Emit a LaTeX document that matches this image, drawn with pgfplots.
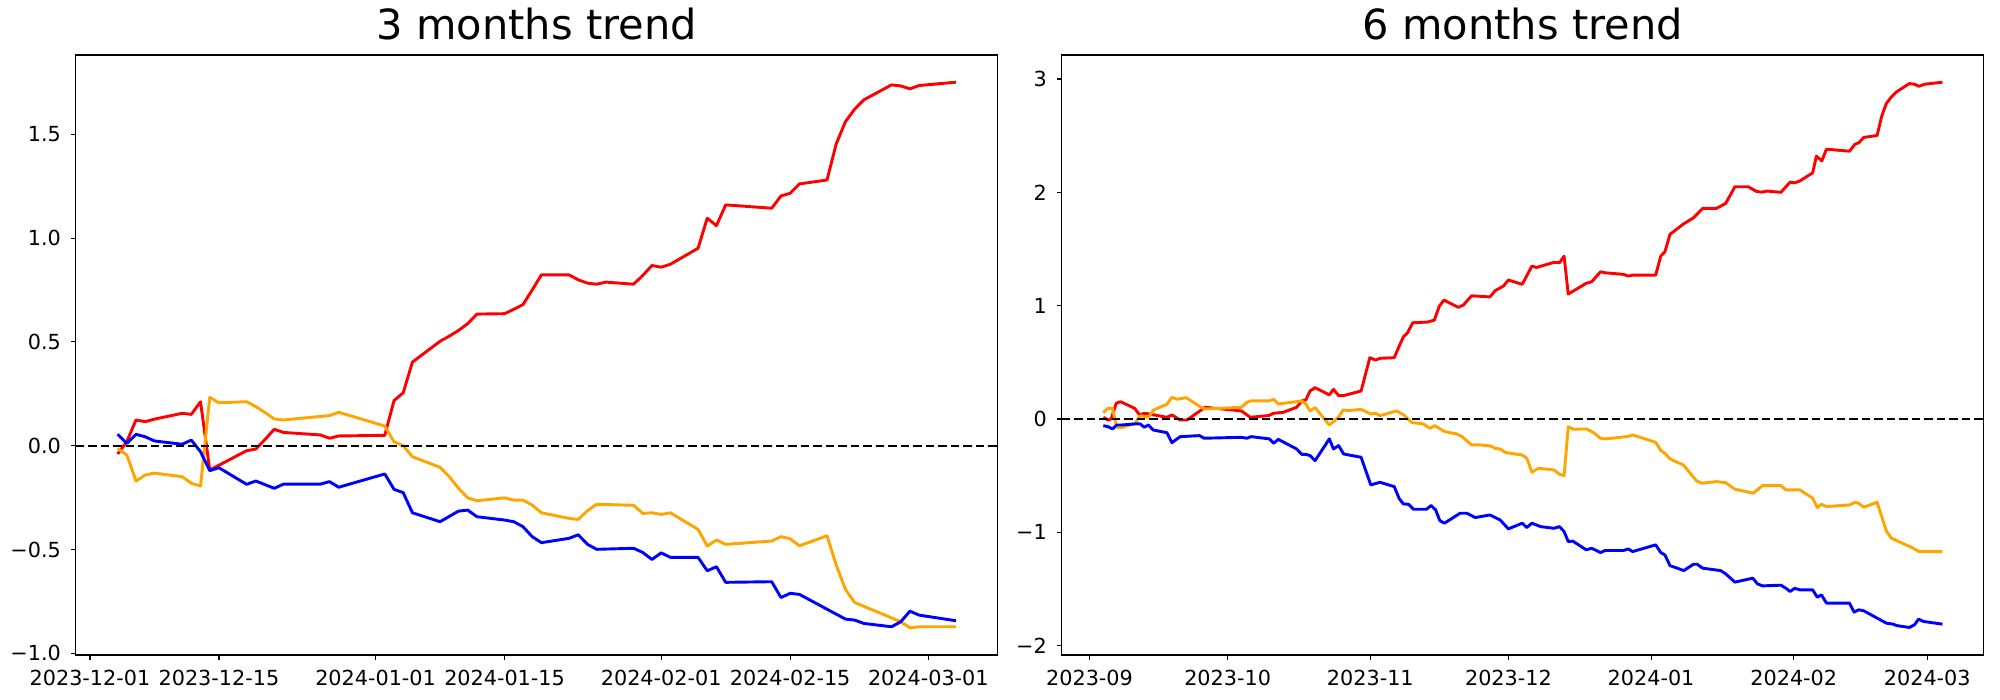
\documentclass[border=0pt]{standalone}
\usepackage{pgfplots}
\pgfplotsset{compat=1.18}
\usepackage{pgfplotstable}
\usepackage{fontspec}
\setmainfont{DejaVu Sans}

\definecolor{mplred}{HTML}{FF0000}
\definecolor{mplorange}{HTML}{FFA500}
\definecolor{mplblue}{HTML}{0000FF}

% ---- 3 months: x = days since 2023-12-01, y in 1e6 ----
\pgfplotstableread{
d v
3 -0.040
4 0.020
5 0.124
6 0.116
7 0.128
10 0.156
11 0.151
12 0.212
13 -0.117
14 -0.094
17 -0.024
18 -0.016
19 0.030
20 0.079
21 0.064
25 0.052
26 0.036
27 0.047
32 0.050
33 0.217
34 0.255
35 0.403
38 0.503
39 0.528
40 0.555
41 0.588
42 0.634
45 0.636
46 0.657
47 0.680
48 0.750
49 0.823
52 0.823
53 0.799
54 0.783
55 0.778
56 0.788
59 0.778
60 0.820
61 0.868
62 0.860
63 0.874
66 0.951
67 1.096
68 1.060
69 1.160
74 1.144
75 1.203
76 1.216
77 1.261
80 1.280
81 1.454
82 1.561
83 1.621
84 1.666
87 1.738
88 1.733
89 1.719
90 1.735
94 1.751
}\shortred

\pgfplotstableread{
d v
3 -0.013
4 -0.045
5 -0.170
6 -0.141
7 -0.132
10 -0.149
11 -0.181
12 -0.194
13 0.233
14 0.207
17 0.212
18 0.188
19 0.160
20 0.129
21 0.124
25 0.141
26 0.145
27 0.161
32 0.095
33 0.019
34 0.000
35 -0.053
38 -0.104
39 -0.149
40 -0.205
41 -0.251
42 -0.265
45 -0.251
46 -0.262
47 -0.262
48 -0.286
49 -0.323
52 -0.350
53 -0.355
54 -0.313
55 -0.282
59 -0.287
60 -0.326
61 -0.323
62 -0.331
63 -0.323
66 -0.403
67 -0.483
68 -0.454
69 -0.475
74 -0.459
75 -0.438
76 -0.448
77 -0.482
80 -0.434
81 -0.575
82 -0.692
83 -0.755
87 -0.829
88 -0.848
89 -0.877
90 -0.872
94 -0.872
}\shortorange

\pgfplotstableread{
d v
3 0.055
4 0.011
5 0.055
6 0.043
7 0.023
10 0.007
11 0.027
12 -0.029
13 -0.120
14 -0.106
17 -0.186
18 -0.170
20 -0.205
21 -0.185
25 -0.185
26 -0.173
27 -0.200
32 -0.136
33 -0.210
34 -0.226
35 -0.323
38 -0.366
40 -0.315
41 -0.310
42 -0.342
45 -0.358
46 -0.366
47 -0.390
48 -0.438
49 -0.467
52 -0.446
53 -0.429
54 -0.475
55 -0.499
59 -0.494
60 -0.514
61 -0.548
62 -0.516
63 -0.538
66 -0.538
67 -0.602
68 -0.583
69 -0.658
74 -0.655
75 -0.731
76 -0.711
77 -0.716
82 -0.835
83 -0.840
84 -0.856
87 -0.872
88 -0.848
89 -0.797
90 -0.816
94 -0.843
}\shortblue

% ---- 6 months: x = days since 2023-09-01, y in 1e6 ----
\pgfplotstableread{
d v
3 0.015
4 -0.009
4.7 0.000
5.8 0.138
6.7 0.153
9.8 0.094
10.9 0.035
11.9 0.050
12.8 0.045
16.8 0.015
17.9 0.035
19.7 -0.009
21.2 -0.009
25.1 0.103
33 0.071
34.9 0.015
38.9 0.030
40 0.050
42.1 0.059
45 0.103
46.1 0.159
47 0.168
47.9 0.247
49 0.276
52.1 0.212
53 0.262
54.1 0.206
55.2 0.206
59 0.247
60.9 0.541
62.1 0.520
63.1 0.535
66.2 0.541
67.3 0.645
68.2 0.726
69.1 0.761
70.2 0.849
73.4 0.855
74.9 0.872
76 0.996
77 1.049
80.1 0.985
81.2 1.005
83 1.087
87 1.077
88.1 1.132
89.9 1.172
91 1.226
94 1.188
96.1 1.349
97.1 1.337
100.9 1.382
102.1 1.379
103.1 1.437
104 1.102
107.9 1.197
109.1 1.211
111 1.299
112 1.290
116 1.276
117 1.261
118.1 1.270
123 1.270
124.1 1.437
125 1.475
126.1 1.629
129 1.720
131.2 1.775
133.2 1.858
136.2 1.858
138.2 1.902
140.2 2.049
143.1 2.049
144.9 2.008
146 2.002
147.2 2.011
150.2 2.000
152.2 2.090
153.2 2.084
154.3 2.100
157.1 2.172
157.9 2.319
159.1 2.278
160.1 2.381
165.1 2.363
166.3 2.425
167.1 2.437
168.2 2.484
171.1 2.502
172.1 2.672
173.1 2.784
174.2 2.842
175.3 2.886
178.1 2.960
179.2 2.954
180.2 2.936
181.4 2.954
185.3 2.972
}\longred

\pgfplotstableread{
d v
3 0.056
4 0.094
5 0.094
5.9 -0.073
7 -0.076
9.9 -0.038
11 0.029
12.8 0.015
13.9 0.079
16.8 0.129
17.9 0.191
19 0.174
21 0.188
24 0.109
25.1 0.088
33 0.103
34.2 0.147
35 0.159
39.1 0.159
40 0.174
41 0.132
46.1 0.159
47 0.132
47.9 0.071
49 0.100
52.1 -0.053
53 -0.024
54.1 0.015
55.1 0.079
56.3 0.074
59 0.085
61.1 0.044
62.2 0.050
63.1 0.029
66.7 0.071
68.2 0.038
70 -0.032
72.5 -0.044
74 -0.082
75 -0.059
77.2 -0.112
79.8 -0.132
80.9 -0.155
83 -0.229
84.9 -0.229
87.1 -0.238
88.1 -0.259
89.2 -0.265
90.3 -0.294
91.4 -0.303
94 -0.318
95 -0.347
96.1 -0.470
97.5 -0.435
100.9 -0.450
102.1 -0.488
103.1 -0.500
104 -0.068
105.1 -0.091
108 -0.088
109.5 -0.121
111 -0.170
112 -0.176
116.7 -0.156
118 -0.141
123 -0.206
124.1 -0.279
125 -0.303
126.1 -0.353
129 -0.406
131.9 -0.547
133 -0.567
136.2 -0.553
138.2 -0.562
140.2 -0.620
144.2 -0.655
146.2 -0.588
150.2 -0.588
151.3 -0.626
154.3 -0.626
157.1 -0.699
158.1 -0.782
159 -0.753
160.1 -0.773
165.1 -0.759
166.3 -0.735
167.1 -0.744
168.2 -0.779
171.1 -0.735
172.1 -0.861
173.1 -0.988
174.2 -1.052
178.9 -1.140
180.2 -1.170
181.3 -1.170
185.3 -1.170
}\longorange

\pgfplotstableread{
d v
3 -0.059
4 -0.068
5 -0.088
5.9 -0.053
7 -0.053
9.9 -0.044
11 -0.044
11.9 -0.073
12.8 -0.053
13.8 -0.097
16.8 -0.121
17.9 -0.209
19.7 -0.156
23.9 -0.147
24.9 -0.170
33 -0.162
34.2 -0.170
35.1 -0.156
39.1 -0.176
40 -0.215
41 -0.180
45 -0.265
46.1 -0.312
47 -0.312
47.9 -0.323
49 -0.368
52.1 -0.176
53 -0.265
54.1 -0.235
55.2 -0.309
59 -0.338
61.1 -0.582
63.1 -0.559
66.2 -0.597
67.3 -0.705
68.2 -0.750
69.3 -0.753
70.4 -0.797
73.2 -0.797
74.2 -0.764
75.2 -0.803
76.1 -0.897
77.1 -0.920
80.5 -0.832
82 -0.832
83.8 -0.870
87 -0.847
89.2 -0.891
91 -0.970
94 -0.920
95 -0.958
96.1 -0.920
98 -0.950
100.9 -0.965
102.1 -0.950
103.1 -0.994
104 -1.082
105 -1.078
107.9 -1.155
109.1 -1.141
111 -1.179
112 -1.161
116 -1.161
117 -1.147
118 -1.170
123 -1.111
124.1 -1.179
125 -1.200
126.1 -1.294
129.1 -1.338
131.2 -1.282
132 -1.282
133.2 -1.317
137.1 -1.338
138.2 -1.367
140.2 -1.440
144.1 -1.405
145.1 -1.455
146.2 -1.473
150.2 -1.467
151.3 -1.494
152.2 -1.523
153.2 -1.494
154.3 -1.508
157.1 -1.508
158.1 -1.573
159 -1.552
160.1 -1.625
165.1 -1.625
166.1 -1.705
167.1 -1.684
168.2 -1.693
173.1 -1.802
174.6 -1.811
175.3 -1.823
178.1 -1.840
179.2 -1.817
180.1 -1.767
181.2 -1.787
185.3 -1.811
}\longblue

\pgfplotsset{
  trend/.style={
    scale only axis,
    width=664bp, height=432bp,
    anchor=south west,
    axis line style={line width=0.8bp, black},
    tick style={line width=0.8bp, black},
    tick align=outside,
    major tick length=3.5bp,
    xtick pos=bottom, ytick pos=left,
    ticklabel style={font=\fontsize{15}{18}\selectfont, inner sep=0pt},
    xticklabel style={anchor=north, yshift=-7bp},
    yticklabel style={anchor=east, xshift=-7bp},
    title style={font=\fontsize{30}{36}\selectfont, at={(0.5,1)}, anchor=base, yshift=5.5bp, inner sep=0pt},
    clip=true,
  },
  serie/.style={line width=2.1bp, line join=round, #1},
  zeroline/.style={black, line width=1.5bp, dash pattern=on 6bp off 3bp},
}

\begin{document}
\begin{tikzpicture}
\path[use as bounding box] (0,0) rectangle (1440bp,504bp);

\begin{axis}[trend,
  at={(54.5bp,32.4bp)},
  title={3 months trend},
  xmin=-1.55, xmax=98.55,
  ymin=-1.008, ymax=1.882,
  xtick={0,14,31,45,62,76,91},
  xticklabels={2023-12-01,2023-12-15,2024-01-01,2024-01-15,2024-02-01,2024-02-15,2024-03-01},
  ytick={-1,-0.5,0,0.5,1,1.5},
  yticklabels={−1.0,−0.5,0.0,0.5,1.0,1.5},
]
\addplot[serie=mplred] table[x=d, y=v] {\shortred};
\addplot[serie=mplorange] table[x=d, y=v] {\shortorange};
\addplot[serie=mplblue] table[x=d, y=v] {\shortblue};
\addplot[zeroline] coordinates {(-1.55,0) (98.55,0)};
\node[anchor=south west, inner sep=0pt, xshift=1bp, yshift=3bp, font=\fontsize{10}{12}\selectfont] at (rel axis cs:0,1) {1e6};
\end{axis}

\begin{axis}[trend,
  at={(764.4bp,32.4bp)},
  title={6 months trend},
  xmin=-6.05, xmax=194.3,
  ymin=-2.083, ymax=3.212,
  xtick={0,30,61,91,122,153,182},
  xticklabels={2023-09,2023-10,2023-11,2023-12,2024-01,2024-02,2024-03},
  ytick={-2,-1,0,1,2,3},
  yticklabels={−2,−1,0,1,2,3},
]
\addplot[serie=mplred] table[x=d, y=v] {\longred};
\addplot[serie=mplorange] table[x=d, y=v] {\longorange};
\addplot[serie=mplblue] table[x=d, y=v] {\longblue};
\addplot[zeroline] coordinates {(-6.05,0) (194.3,0)};
\node[anchor=south west, inner sep=0pt, xshift=1bp, yshift=3bp, font=\fontsize{10}{12}\selectfont] at (rel axis cs:0,1) {1e6};
\end{axis}
\end{tikzpicture}
\end{document}
